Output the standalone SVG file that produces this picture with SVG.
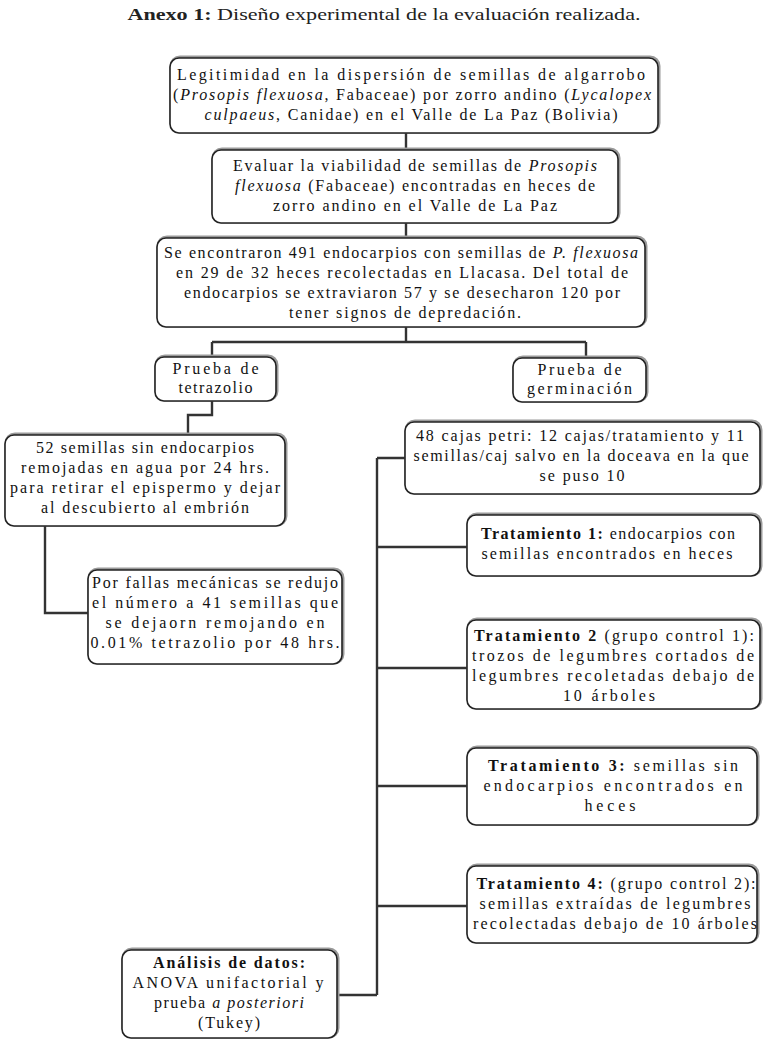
<svg xmlns="http://www.w3.org/2000/svg" width="768" height="1046" viewBox="0 0 768 1046">
<style>
.bx{fill:#fff;stroke:#222;stroke-width:1.6}
.sh{fill:none;stroke:#9a9a9a;stroke-width:3}
.t{font-family:"Liberation Serif","Times New Roman",serif;font-size:16px;fill:#111;text-anchor:middle}
.ti{font-family:"Liberation Serif","Times New Roman",serif;font-size:17px;fill:#222;text-anchor:middle}
.b{font-weight:bold}
.i{font-style:italic}
.c{fill:none;stroke:#333;stroke-width:2.4}
</style>
<rect width="768" height="1046" fill="#fff"/>
<text class="ti" x="384" y="20" textLength="513" lengthAdjust="spacingAndGlyphs"><tspan class="b">Anexo 1:</tspan> Diseño experimental de la evaluación realizada.</text>

<g id="connectors">
<path class="c" d="M406 133V150M406 222V238M406 326V342M212 342H586M212 342V357M586 342V358"/>
<path class="c" d="M212 400V415H188V435"/>
<path class="c" d="M45 525V613H88"/>
<path class="c" d="M377 458V995M377 458H405M377 547H467M377 668H467M377 786H467M377 906H467M338 995H377"/>
</g>

<g id="n1">
<rect class="sh" x="171" y="57" width="488" height="75" rx="9"/>
<rect class="bx" x="170" y="58" width="488" height="75" rx="9"/>
<text class="t" x="411" y="80" textLength="468" lengthAdjust="spacing">Legitimidad en la dispersión de semillas de algarrobo</text>
<text class="t" x="412" y="100" textLength="478" lengthAdjust="spacing">(<tspan class="i">Prosopis flexuosa</tspan>, Fabaceae) por zorro andino (<tspan class="i">Lycalopex</tspan></text>
<text class="t" x="411" y="120" textLength="413" lengthAdjust="spacing"><tspan class="i">culpaeus</tspan>, Canidae) en el Valle de La Paz (Bolivia)</text>
</g>

<g id="n2">
<rect class="sh" x="213" y="149" width="406" height="73" rx="9"/>
<rect class="bx" x="212" y="150" width="406" height="73" rx="9"/>
<text class="t" x="415" y="171" textLength="364" lengthAdjust="spacing">Evaluar la viabilidad de semillas de <tspan class="i">Prosopis</tspan></text>
<text class="t" x="415" y="191" textLength="360" lengthAdjust="spacing"><tspan class="i">flexuosa</tspan> (Fabaceae) encontradas en heces de</text>
<text class="t" x="415" y="211" textLength="284" lengthAdjust="spacing">zorro andino en el Valle de La Paz</text>
</g>

<g id="n3">
<rect class="sh" x="158" y="237" width="488" height="89" rx="9"/>
<rect class="bx" x="157" y="238" width="488" height="89" rx="9"/>
<text class="t" x="401" y="258" textLength="474" lengthAdjust="spacing">Se encontraron 491 endocarpios con semillas de <tspan class="i">P. flexuosa</tspan></text>
<text class="t" x="402" y="278" textLength="452" lengthAdjust="spacing">en 29 de 32 heces recolectadas en Llacasa. Del total de</text>
<text class="t" x="402" y="298" textLength="436" lengthAdjust="spacing">endocarpios se extraviaron 57 y se desecharon 120 por</text>
<text class="t" x="405" y="318" textLength="232" lengthAdjust="spacing">tener signos de depredación.</text>
</g>

<g id="n4">
<rect class="sh" x="156" y="356" width="121" height="44" rx="9"/>
<rect class="bx" x="155" y="357" width="121" height="44" rx="9"/>
<text class="t" x="215.5" y="374" textLength="86" lengthAdjust="spacing">Prueba de</text>
<text class="t" x="215.5" y="393" textLength="74" lengthAdjust="spacing">tetrazolio</text>
</g>

<g id="n5">
<rect class="sh" x="514" y="357" width="133" height="44" rx="9"/>
<rect class="bx" x="513" y="358" width="133" height="44" rx="9"/>
<text class="t" x="579.5" y="375" textLength="84" lengthAdjust="spacing">Prueba de</text>
<text class="t" x="579.5" y="394" textLength="105" lengthAdjust="spacing">germinación</text>
</g>

<g id="n6">
<rect class="sh" x="6" y="434" width="280" height="91" rx="9"/>
<rect class="bx" x="5" y="435" width="280" height="91" rx="9"/>
<text class="t" x="145" y="453" textLength="218" lengthAdjust="spacing">52 semillas sin endocarpios</text>
<text class="t" x="145" y="473" textLength="248" lengthAdjust="spacing">remojadas en agua por 24 hrs.</text>
<text class="t" x="145" y="493" textLength="270" lengthAdjust="spacing">para retirar el epispermo y dejar</text>
<text class="t" x="145" y="513" textLength="208" lengthAdjust="spacing">al descubierto al embrión</text>
</g>

<g id="n7">
<rect class="sh" x="89" y="569" width="254" height="94" rx="9"/>
<rect class="bx" x="88" y="570" width="254" height="94" rx="9"/>
<text class="t" x="215" y="588" textLength="246" lengthAdjust="spacing">Por fallas mecánicas se redujo</text>
<text class="t" x="215" y="608" textLength="246" lengthAdjust="spacing">el número a 41 semillas que</text>
<text class="t" x="215" y="628" textLength="219" lengthAdjust="spacing">se dejaorn remojando en</text>
<text class="t" x="215" y="648" textLength="249" lengthAdjust="spacing">0.01% tetrazolio por 48 hrs.</text>
</g>

<g id="n8">
<rect class="sh" x="406" y="421" width="355" height="72" rx="9"/>
<rect class="bx" x="405" y="422" width="355" height="72" rx="9"/>
<text class="t" x="580" y="441" textLength="328" lengthAdjust="spacing">48 cajas petri: 12 cajas/tratamiento y 11</text>
<text class="t" x="581" y="461" textLength="335" lengthAdjust="spacing">semillas/caj salvo en la doceava en la que</text>
<text class="t" x="582" y="481" textLength="85" lengthAdjust="spacing">se puso 10</text>
</g>

<g id="n9">
<rect class="sh" x="468" y="514" width="293" height="61" rx="9"/>
<rect class="bx" x="467" y="515" width="293" height="61" rx="9"/>
<text class="t" x="608" y="539" textLength="254" lengthAdjust="spacing"><tspan class="b">Tratamiento 1:</tspan> endocarpios con</text>
<text class="t" x="607" y="559" textLength="251" lengthAdjust="spacing">semillas encontrados en heces</text>
</g>

<g id="n10">
<rect class="sh" x="468" y="619" width="293" height="89" rx="9"/>
<rect class="bx" x="467" y="620" width="293" height="89" rx="9"/>
<text class="t" x="614" y="641" textLength="280" lengthAdjust="spacing"><tspan class="b">Tratamiento 2</tspan> (grupo control 1):</text>
<text class="t" x="613" y="661" textLength="282" lengthAdjust="spacing">trozos de legumbres cortados de</text>
<text class="t" x="613" y="681" textLength="282" lengthAdjust="spacing">legumbres recoletadas debajo de</text>
<text class="t" x="609" y="701" textLength="92" lengthAdjust="spacing">10 árboles</text>
</g>

<g id="n11">
<rect class="sh" x="468" y="747" width="290" height="77" rx="9"/>
<rect class="bx" x="467" y="748" width="290" height="77" rx="9"/>
<text class="t" x="613" y="771" textLength="250" lengthAdjust="spacing"><tspan class="b">Tratamiento 3:</tspan> semillas sin</text>
<text class="t" x="613" y="791" textLength="259" lengthAdjust="spacing">endocarpios encontrados en</text>
<text class="t" x="610" y="811" textLength="51" lengthAdjust="spacing">heces</text>
</g>

<g id="n12">
<rect class="sh" x="468" y="865" width="290" height="77" rx="9"/>
<rect class="bx" x="467" y="866" width="290" height="77" rx="9"/>
<text class="t" x="616" y="889" textLength="279" lengthAdjust="spacing"><tspan class="b">Tratamiento 4:</tspan> (grupo control 2):</text>
<text class="t" x="615" y="909" textLength="271" lengthAdjust="spacing">semillas extraídas de legumbres</text>
<text class="t" x="615" y="929" textLength="284" lengthAdjust="spacing">recolectadas debajo de 10 árboles</text>
</g>

<g id="n13">
<rect class="sh" x="123" y="949" width="215" height="88" rx="9"/>
<rect class="bx" x="122" y="950" width="215" height="88" rx="9"/>
<text class="t b" x="229" y="968" textLength="152" lengthAdjust="spacing">Análisis de datos:</text>
<text class="t" x="228" y="988" textLength="191" lengthAdjust="spacing">ANOVA unifactorial y</text>
<text class="t" x="229" y="1008" textLength="150" lengthAdjust="spacing">prueba <tspan class="i">a posteriori</tspan></text>
<text class="t" x="229" y="1028" textLength="62" lengthAdjust="spacing">(Tukey)</text>
</g>
</svg>
